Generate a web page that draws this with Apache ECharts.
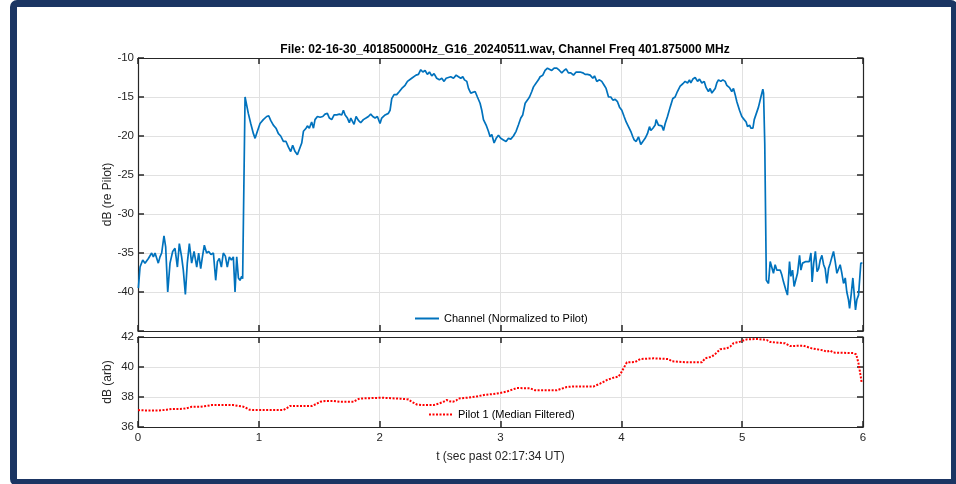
<!DOCTYPE html>
<html>
<head>
<meta charset="utf-8">
<script src="https://cdn.jsdelivr.net/npm/echarts@6/dist/echarts.min.js"></script>
<style>
html,body{margin:0;padding:0;background:#fff;width:956px;height:484px;overflow:hidden;}
#chart{position:absolute;left:0;top:0;width:956px;height:484px;}
#frame{position:absolute;left:10px;top:0;width:934px;height:472px;border:7px solid #1b3563;border-radius:7px;pointer-events:none;}
</style>
</head>
<body>
<div id="chart"></div>
<div id="frame"></div>
<script>
const titleText = 'File: 02-16-30_401850000Hz_G16_20240511.wav, Channel Freq 401.875000 MHz';
const xTicks = [0, 1, 2, 3, 4, 5, 6];
const chTicks = [-45, -40, -35, -30, -25, -20, -15, -10];
const pilotTicks = [36, 38, 40, 42];
const chName = 'Channel (Normalized to Pilot)';
const pilotName = 'Pilot 1 (Median Filtered)';

const chT = [0.003,0.017,0.039,0.058,0.072,0.086,0.099,0.113,0.127,0.141,0.155,0.168,0.182,0.196,0.215,0.229,0.246,0.265,0.287,0.306,0.326,0.342,0.361,0.375,0.392,0.408,0.425,0.444,0.464,0.486,0.502,0.519,0.533,0.549,0.568,0.585,0.604,0.624,0.643,0.657,0.673,0.690,0.706,0.723,0.739,0.756,0.773,0.789,0.803,0.817,0.831,0.844,0.858,0.866,
0.886,0.913,0.933,0.955,0.969,0.988,1.010,1.037,1.065,1.082,1.098,1.120,1.142,1.162,1.181,1.203,1.225,1.244,1.264,1.280,1.300,1.319,1.335,1.355,1.369,1.391,1.402,1.418,1.437,1.452,1.465,1.485,1.507,1.529,1.548,1.567,1.584,1.603,1.623,1.645,1.667,1.686,1.700,1.714,1.733,1.749,1.761,1.777,1.788,1.805,1.824,1.843,1.865,1.887,1.907,1.926,1.943,1.962,1.981,2.003,2.017,2.045,2.072,2.086,2.100,2.119,2.141,2.163,2.183,2.196,2.210,2.230,2.246,2.265,2.279,2.301,2.321,2.340,2.357,2.376,2.395,2.412,2.431,2.450,2.472,2.494,2.514,2.533,2.550,2.569,2.588,2.611,2.633,2.652,2.671,2.688,2.702,2.721,2.735,2.754,2.770,2.790,2.809,2.831,
2.845,2.859,2.881,2.900,2.914,2.928,2.947,2.964,2.983,3.002,3.024,3.046,3.066,3.085,3.107,3.129,3.148,3.168,3.184,3.204,3.223,3.240,3.259,3.273,3.295,3.314,3.328,3.350,3.369,3.389,3.405,3.424,3.444,3.466,3.488,3.507,3.526,3.543,3.562,3.582,3.604,3.626,3.637,3.659,3.681,3.700,3.720,3.742,3.764,3.778,3.797,3.819,3.838,3.858,3.874,3.894,3.913,3.930,3.949,3.968,3.985,4.004,4.023,4.040,4.059,4.078,4.095,4.106,4.123,4.142,4.161,4.178,4.197,4.216,4.233,4.244,4.261,4.280,4.288,4.307,4.321,4.335,4.349,4.363,4.382,4.404,4.426,4.445,4.464,4.487,4.509,4.528,4.548,4.564,4.575,4.592,4.611,4.631,4.647,4.666,4.686,4.702,4.721,4.735,4.749,4.763,4.777,4.790,4.804,4.823,4.840,4.859,4.873,4.895,4.914,4.928,4.942,4.956,4.978,4.997,5.017,5.033,5.044,5.061,5.072,5.089,5.100,5.116,5.135,5.155,5.171,5.177,5.187,
5.200,5.218,5.232,5.246,5.259,5.273,5.287,5.301,5.315,5.328,5.342,5.361,5.375,5.392,5.403,5.417,5.430,5.444,5.458,5.475,5.486,5.500,5.513,5.527,5.555,5.569,5.579,5.592,5.606,5.620,5.633,5.646,5.660,5.674,5.687,5.701,5.715,5.729,5.743,5.756,5.770,5.784,5.798,5.811,5.825,5.839,5.853,5.866,5.880,5.889,5.903,5.916,5.927,5.938,5.949,5.963,5.971,5.982,5.995];

const chV = [-39.5,-36.8,-35.9,-36.3,-36.1,-35.7,-35.9,-35.0,-35.5,-35.0,-35.2,-36.3,-35.5,-35.0,-32.8,-34.2,-40.0,-36.3,-34.8,-34.4,-36.8,-33.8,-35.5,-37.2,-40.3,-36.3,-33.8,-36.3,-34.8,-36.8,-35.0,-37.0,-35.5,-34.0,-35.0,-34.8,-35.2,-35.0,-38.5,-36.1,-35.7,-36.8,-35.0,-35.4,-36.8,-35.5,-35.9,-35.5,-40.0,-35.5,-38.2,-38.5,-38.0,-38.3,
-15.0,-17.1,-18.4,-19.7,-20.3,-19.4,-18.4,-17.9,-17.5,-17.4,-18.0,-18.6,-19.0,-19.7,-20.0,-20.7,-20.7,-21.4,-22.0,-21.2,-22.0,-22.4,-22.4,-20.9,-19.4,-19.0,-18.7,-19.0,-18.2,-19.0,-17.9,-17.5,-17.6,-17.5,-17.2,-17.1,-17.7,-17.9,-17.3,-17.3,-17.2,-17.3,-16.7,-17.3,-17.7,-18.3,-17.7,-17.6,-18.5,-17.5,-18.0,-18.3,-17.9,-17.7,-17.5,-17.2,-17.5,-17.7,-17.5,-18.4,-17.7,-17.3,-17.1,-16.7,-15.2,-14.7,-14.7,-14.3,-13.9,-14.1,-13.5,-13.0,-13.2,-12.6,-12.8,-12.2,-12.1,-11.5,-11.8,-11.6,-12.1,-11.8,-12.3,-12.0,-12.6,-12.8,-12.6,-13.0,-12.6,-12.5,-12.4,-12.6,-12.2,-12.4,-12.6,-12.4,-12.8,-13.0,-13.9,-14.5,-14.7,-14.3,-15.0,-15.8,
-16.7,-17.9,-18.6,-19.4,-20.1,-19.8,-20.9,-20.3,-19.9,-20.3,-20.5,-20.7,-20.3,-20.4,-20.0,-19.4,-18.6,-17.7,-17.3,-15.8,-15.4,-15.0,-14.3,-13.7,-13.2,-12.8,-12.4,-12.2,-11.6,-11.3,-11.1,-11.6,-11.3,-11.3,-11.6,-11.9,-11.6,-11.4,-11.9,-11.9,-12.2,-11.8,-11.6,-11.8,-11.9,-12.1,-12.1,-12.2,-12.6,-12.3,-13.0,-12.8,-13.0,-13.5,-13.9,-15.0,-15.0,-15.4,-15.3,-15.6,-16.3,-16.7,-17.5,-18.2,-18.8,-19.4,-20.1,-20.5,-20.7,-20.1,-21.1,-20.7,-20.3,-19.7,-18.8,-19.3,-19.0,-18.6,-17.9,-18.6,-18.4,-18.7,-19.3,-18.4,-17.5,-16.3,-15.2,-15.0,-14.3,-13.6,-13.3,-13.0,-13.2,-12.8,-13.2,-12.7,-12.5,-13.0,-12.7,-13.2,-13.0,-13.8,-14.3,-13.9,-14.5,-14.7,-13.9,-13.2,-12.8,-13.0,-12.8,-13.0,-13.5,-13.8,-14.3,-13.9,-14.7,-15.6,-16.7,-17.5,-17.9,-18.2,-18.8,-18.6,-19.0,-19.0,-17.9,-17.7,-16.3,-15.0,-14.0,-14.5,-21.0,
-38.5,-38.9,-36.1,-35.9,-37.6,-36.5,-37.2,-37.0,-37.2,-37.8,-38.7,-39.7,-40.4,-36.1,-38.0,-37.2,-39.3,-39.1,-37.6,-35.3,-37.2,-36.3,-36.5,-36.1,-36.1,-35.0,-38.7,-36.3,-34.8,-37.4,-37.0,-35.9,-35.3,-36.5,-37.0,-38.9,-37.0,-36.3,-35.5,-34.8,-36.1,-37.6,-37.4,-36.5,-37.6,-38.9,-38.2,-40.0,-41.0,-42.1,-40.2,-38.2,-40.2,-42.3,-41.0,-40.4,-40.6,-36.3,-36.3];

const pilotT = [0.000,0.072,0.168,0.237,0.279,0.348,0.403,0.444,0.513,0.568,0.610,0.789,0.872,0.900,0.922,0.955,1.203,1.231,1.258,1.438,1.479,1.507,1.548,1.617,1.672,1.783,1.816,1.838,2.017,2.169,2.238,2.265,2.307,2.362,2.445,2.486,2.527,2.555,2.577,2.605,2.633,2.652,2.721,2.804,2.873,2.941,2.997,3.052,3.135,3.245,3.286,3.466,3.549,3.604,3.769,3.824,3.880,3.935,3.976,3.996,4.018,4.046,4.114,4.156,4.266,4.390,4.418,4.542,4.666,4.694,4.749,4.777,4.818,4.873,4.901,4.928,4.983,5.038,5.121,5.204,5.232,5.356,5.397,5.508,5.577,5.673,5.701,5.729,5.756,5.922,5.944,5.963,5.977,5.990];
const pilotV = [37.13,37.10,37.10,37.15,37.20,37.20,37.25,37.35,37.35,37.40,37.46,37.46,37.35,37.25,37.15,37.13,37.13,37.25,37.40,37.40,37.55,37.68,37.73,37.73,37.68,37.68,37.84,37.90,37.95,37.89,37.84,37.68,37.50,37.46,37.46,37.55,37.68,37.80,37.71,37.68,37.76,37.90,37.95,38.04,38.15,38.20,38.27,38.36,38.60,38.58,38.45,38.45,38.67,38.70,38.70,38.89,39.13,39.29,39.36,39.58,39.91,40.31,40.33,40.53,40.58,40.53,40.38,40.31,40.31,40.58,40.69,40.87,41.18,41.24,41.36,41.58,41.69,41.84,41.87,41.80,41.67,41.58,41.40,41.42,41.24,41.11,41.02,41.09,40.96,40.93,40.84,40.24,39.58,38.91];

const chData = chT.map((t, i) => [t, chV[i]]);
const pilotData = pilotT.map((t, i) => [t, pilotV[i]]);

const FONT = '"Liberation Sans", Arial, Helvetica, sans-serif';
const AX = '#262626';
const GRIDC = '#e1e1e1';

function xAx(gridIndex, pos, showLabels, name) {
  return {
    type: 'value', gridIndex, position: pos, min: xTicks[0], max: xTicks[xTicks.length - 1], interval: 1,
    axisLine: {show: true, onZero: false, lineStyle: {color: AX, width: 1.2}},
    axisTick: {show: true, inside: true, length: 6, lineStyle: {color: AX, width: 1.5}},
    axisLabel: {show: showLabels, color: AX, fontSize: 11.5, fontFamily: FONT, margin: 5},
    splitLine: {show: pos === 'bottom', lineStyle: {color: GRIDC, width: 1}},
    name: name || '', nameLocation: 'middle', nameGap: 24, nameMoveOverlap: false,
    nameTextStyle: {color: AX, fontSize: 12, fontFamily: FONT}
  };
}
function yAx(gridIndex, pos, min, max, interval, showLabels, name, hideMin) {
  return {
    type: 'value', gridIndex, position: pos, min, max, interval,
    axisLine: {show: true, onZero: false, lineStyle: {color: AX, width: 1.2}},
    axisTick: {show: true, inside: true, length: 6, lineStyle: {color: AX, width: 1.5}},
    axisLabel: {show: showLabels, color: AX, fontSize: 11.5, fontFamily: FONT, margin: 4,
      formatter: v => (hideMin && v === min) ? '' : String(v)},
    splitLine: {show: pos === 'left', lineStyle: {color: GRIDC, width: 1}},
    name: name || '', nameLocation: 'middle', nameGap: 24, nameRotate: 90, nameMoveOverlap: false,
    nameTextStyle: {color: AX, fontSize: 12, fontFamily: FONT}
  };
}

const chart = echarts.init(document.getElementById('chart'), null, {renderer: 'canvas'});
chart.setOption({
  animation: false,
  backgroundColor: '#ffffff',
  title: {
    text: titleText, left: 500, textAlign: 'center', top: 39,
    textStyle: {fontSize: 12, fontWeight: 'bold', color: '#000', fontFamily: FONT}
  },
  grid: [
    {left: 138, top: 58, width: 725, height: 273},
    {left: 138, top: 337, width: 725, height: 90}
  ],
  xAxis: [
    xAx(0, 'bottom', false),
    xAx(0, 'top', false),
    xAx(1, 'bottom', true, 't (sec past 02:17:34 UT)'),
    xAx(1, 'top', false)
  ],
  yAxis: [
    yAx(0, 'left', chTicks[0], chTicks[chTicks.length - 1], 5, true, 'dB (re Pilot)', true),
    yAx(0, 'right', chTicks[0], chTicks[chTicks.length - 1], 5, false),
    yAx(1, 'left', pilotTicks[0], pilotTicks[pilotTicks.length - 1], 2, true, 'dB (arb)', false),
    yAx(1, 'right', pilotTicks[0], pilotTicks[pilotTicks.length - 1], 2, false)
  ],
  legend: [
    {data: [chName], left: 414, top: 313, padding: 0, itemWidth: 24, itemHeight: 12,
     itemStyle: {opacity: 0},
     textStyle: {fontSize: 11, color: '#000', fontFamily: FONT}},
    {data: [pilotName], left: 428, top: 409, padding: 0, itemWidth: 24, itemHeight: 12,
     itemStyle: {opacity: 0},
     textStyle: {fontSize: 11, color: '#000', fontFamily: FONT}}
  ],
  series: [
    {name: chName, type: 'line', xAxisIndex: 0, yAxisIndex: 0, data: chData,
     showSymbol: false, symbol: 'none', clip: true,
     lineStyle: {color: '#0072BD', width: 1.7}, itemStyle: {color: '#0072BD'}},
    {name: pilotName, type: 'line', xAxisIndex: 2, yAxisIndex: 2, data: pilotData,
     showSymbol: false, symbol: 'none', clip: true,
     lineStyle: {color: '#ff0000', width: 2, type: [2, 1.5]}, itemStyle: {color: '#ff0000'}}
  ]
});
</script>
</body>
</html>
